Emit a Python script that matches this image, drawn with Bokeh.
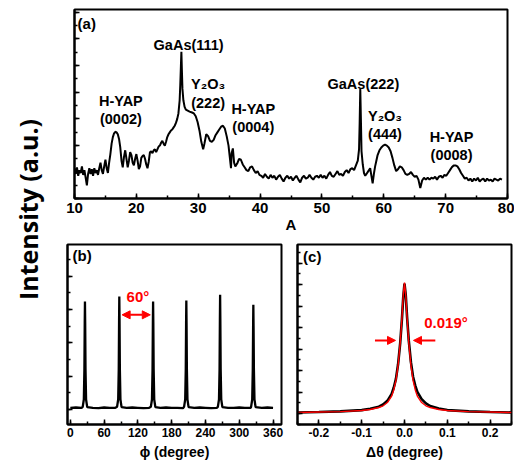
import math
from bokeh.plotting import figure
from bokeh.layouts import row, column
from bokeh.models import (Range1d, Label, Arrow, NormalHead, SingleIntervalTicker,
                          CustomJSTickFormatter)
from bokeh.embed import file_html
from bokeh.resources import INLINE

# ---------------- data ----------------
# (a) 2theta scan
xrd_x = [10.0, 10.2, 10.4, 10.6, 10.8, 11.0, 11.2, 11.4, 11.6, 11.8, 12.0, 12.2, 12.4, 12.6, 12.8,
         13.0, 13.2, 13.4, 13.6, 13.8, 14.0, 14.2, 14.4, 14.6, 14.8, 15.0, 15.2, 15.4, 15.6, 15.8,
         16.0, 16.2, 16.4, 16.6, 16.8, 17.0, 17.2, 17.4, 17.6, 17.8, 18.0, 18.2, 18.4, 18.6, 18.8,
         19.0, 19.2, 19.4, 19.6, 19.8, 20.0, 20.2, 20.4, 20.6, 20.8, 21.0, 21.2, 21.4, 21.6, 21.8,
         22.0, 22.2, 22.4, 22.6, 22.8, 23.0, 23.2, 23.4, 23.6, 23.8, 24.0, 24.2, 24.4, 24.6, 24.8,
         25.0, 25.2, 25.4, 25.6, 25.8, 26.0, 26.2, 26.4, 26.6, 26.8, 27.0, 27.1, 27.2, 27.28, 27.36,
         27.45, 27.6, 27.8, 28.0, 28.3, 28.6, 29.0, 29.3, 29.6, 29.9, 30.2, 30.5, 30.8, 31.0, 31.3,
         31.6, 31.9, 32.2, 32.5, 32.8, 33.1, 33.4, 33.7, 34.0, 34.3, 34.6, 34.9, 35.1, 35.3, 35.4,
         35.6, 35.8, 36.0, 36.3, 36.6, 36.9, 37.2, 37.5, 37.8, 38.1, 38.4, 38.7, 39.0, 39.3, 39.6,
         39.9, 40.2, 40.5, 40.8, 41.1, 41.4, 41.7, 42.0, 42.3, 42.6, 42.9, 43.2, 43.5, 43.8, 44.1,
         44.4, 44.7, 45.0, 45.3, 45.6, 45.9, 46.2, 46.5, 46.8, 47.1, 47.4, 47.7, 48.0, 48.3, 48.6,
         48.9, 49.2, 49.5, 49.8, 50.1, 50.4, 50.7, 51.0, 51.3, 51.6, 51.9, 52.2, 52.5, 52.8, 53.1,
         53.4, 53.7, 54.0, 54.3, 54.6, 54.9, 55.2, 55.5, 55.8, 56.0, 56.1, 56.2, 56.3, 56.4, 56.6,
         56.8, 57.0, 57.2, 57.5, 57.8, 58.0, 58.2, 58.4, 58.6, 58.8, 59.0, 59.3, 59.6, 59.9, 60.2,
         60.5, 60.8, 61.1, 61.4, 61.7, 62.0, 62.3, 62.6, 62.9, 63.2, 63.5, 63.8, 64.1, 64.4, 64.7,
         65.0, 65.3, 65.6, 65.9, 66.2, 66.5, 66.8, 67.1, 67.4, 67.7, 68.0, 68.3, 68.6, 68.9, 69.2,
         69.5, 69.8, 70.1, 70.4, 70.7, 71.0, 71.3, 71.6, 71.9, 72.2, 72.5, 72.8, 73.1, 73.4, 73.7,
         74.0, 74.3, 74.6, 74.9, 75.2, 75.5, 75.8, 76.1, 76.4, 76.7, 77.0, 77.3, 77.6, 77.9, 78.2,
         78.5, 78.8, 79.1]
xrd_y = [16.0, 13.0, 16.5, 12.0, 15.0, 13.5, 17.0, 12.5, 15.0, 11.0, 7.0, 13.0, 16.0, 13.0, 15.5,
         12.0, 16.0, 13.5, 15.0, 12.5, 16.0, 19.0, 15.0, 13.0, 17.0, 20.5, 16.0, 13.5, 19.0, 23.5,
         29.0, 32.5, 34.5, 35.3, 35.0, 34.0, 31.5, 27.0, 20.0, 16.5, 22.0, 25.5, 21.0, 16.5, 20.0,
         24.5, 23.0, 19.0, 17.5, 21.0, 23.5, 20.0, 15.5, 17.0, 21.5, 22.5, 23.0, 21.0, 18.0, 16.0,
         19.5, 24.5, 25.0, 24.0, 25.5, 26.0, 24.5, 26.0, 27.5, 28.0, 29.5, 30.5, 29.0, 28.0, 30.0,
         32.5, 34.0, 35.0, 36.0, 36.5, 37.5, 38.5, 40.0, 42.0, 45.0, 52.0, 60.0, 70.0, 77.6, 68.0,
         58.0, 52.0, 48.5, 47.0, 46.5, 46.0, 45.5, 45.0, 43.5, 40.5, 36.0, 30.0, 26.0, 29.0, 34.0,
         33.0, 30.5, 30.0, 31.0, 33.5, 35.0, 36.5, 38.0, 38.5, 37.0, 33.0, 28.0, 22.0, 16.0, 24.0,
         26.5, 19.0, 17.0, 18.5, 21.0, 20.5, 18.0, 16.5, 15.0, 14.5, 16.5, 17.0, 15.0, 13.5, 14.5,
         12.5, 12.0, 11.0, 13.0, 11.5, 10.5, 12.5, 11.0, 12.0, 10.0, 11.5, 12.5, 10.5, 9.0, 11.0,
         12.0, 10.5, 11.5, 9.5, 11.0, 12.0, 10.0, 8.5, 11.0, 12.0, 10.5, 11.0, 12.5, 11.0, 10.0,
         11.5, 12.0, 11.0, 12.5, 11.0, 12.0, 10.5, 12.5, 14.0, 12.0, 11.5, 13.0, 14.5, 12.5, 13.0,
         12.0, 14.0, 15.0, 13.5, 15.5, 16.0, 15.0, 17.5, 20.0, 26.0, 40.0, 58.0, 42.0, 25.0, 18.0,
         13.5, 12.0, 13.0, 14.5, 16.0, 12.0, 8.0, 13.0, 17.0, 20.0, 23.0, 25.5, 27.0, 28.0, 28.5,
         28.0, 27.0, 25.0, 21.5, 17.5, 14.5, 15.5, 17.0, 16.5, 15.0, 13.0, 12.5, 13.0, 14.0, 12.5,
         11.5, 12.0, 10.0, 5.5, 9.5, 11.0, 10.0, 11.0, 10.0, 11.0, 10.5, 11.5, 10.0, 11.5, 12.0,
         11.0, 12.5, 12.0, 13.5, 15.0, 16.5, 17.5, 17.5, 17.0, 15.5, 13.5, 12.0, 10.5, 11.0, 9.5,
         10.5, 9.0, 10.5, 9.5, 11.0, 9.0, 10.0, 10.5, 9.0, 10.5, 9.5, 10.0, 9.0, 10.5, 10.0,
         9.5, 10.5, 10.0]

# (b) phi scan
phi_x = [0, 10, 20, 22, 24, 25, 25.6, 26, 26.4, 27, 28, 30, 40, 50, 60, 70, 80, 83, 85, 86, 86.6,
         87, 87.4, 88, 89, 91, 100, 110, 120, 130, 140, 143, 145, 146, 146.6, 147, 147.4, 148, 149,
         151, 160, 170, 180, 190, 200, 202, 204, 205, 205.6, 206, 206.4, 207, 208, 210, 220, 230,
         240, 250, 260, 262, 264, 265, 265.6, 266, 266.4, 267, 268, 270, 280, 290, 300, 310, 320,
         321, 323, 324, 324.6, 325, 325.4, 326, 327, 329, 340, 350, 360]
phi_y = [0.05, 0.06, 0.05, 0.08, 0.3, 1.2, 2.6, 3.24, 2.6, 1.2, 0.3, 0.07, 0.05, 0.04, 0.06, 0.05,
         0.05, 0.08, 0.3, 1.2, 2.7, 3.39, 2.7, 1.2, 0.3, 0.07, 0.05, 0.06, 0.05, 0.04, 0.05, 0.08,
         0.3, 1.2, 2.6, 3.24, 2.6, 1.2, 0.3, 0.07, 0.05, 0.06, 0.05, 0.05, 0.04, 0.08, 0.3, 1.2,
         2.6, 3.27, 2.6, 1.2, 0.3, 0.07, 0.05, 0.06, 0.05, 0.04, 0.05, 0.08, 0.3, 1.2, 2.7, 3.44,
         2.7, 1.2, 0.3, 0.07, 0.05, 0.05, 0.06, 0.05, 0.05, 0.08, 0.3, 1.2, 2.5, 3.14, 2.5, 1.2,
         0.3, 0.07, 0.05, 0.06, 0.05]

# (c) rocking curve: measured (black) and fit (red)
rc_x = [-0.25, -0.2, -0.15, -0.1, -0.08, -0.06, -0.05, -0.04, -0.03, -0.025, -0.02, -0.015,
        -0.01, -0.006, -0.003, 0.0, 0.003, 0.006, 0.01, 0.015, 0.02, 0.025, 0.03, 0.04, 0.05,
        0.06, 0.08, 0.1, 0.15, 0.2, 0.25]
rc_data = [0.06, 0.08, 0.11, 0.17, 0.23, 0.33, 0.43, 0.6, 0.92, 1.22, 1.62, 2.3, 3.3, 4.4, 5.4,
           6.05, 5.5, 4.5, 3.4, 2.4, 1.72, 1.32, 1.02, 0.68, 0.48, 0.36, 0.24, 0.17, 0.11, 0.08,
           0.06]
rc_fit = [0.06, 0.08, 0.1, 0.15, 0.2, 0.29, 0.37, 0.52, 0.82, 1.12, 1.55, 2.25, 3.3, 4.45, 5.5,
          6.1, 5.5, 4.45, 3.3, 2.25, 1.55, 1.12, 0.82, 0.52, 0.37, 0.29, 0.2, 0.15, 0.1, 0.08,
          0.06]

FONT = "Liberation Sans"
RED = "#ff0000"
blank = CustomJSTickFormatter(code="return ''")


def style(p, tick_size, xint, xminor, yint, yminor, ylab_fmt):
    p.xgrid.grid_line_color = None
    p.ygrid.grid_line_color = None
    p.outline_line_color = "black"
    p.outline_line_width = 2
    p.outline_line_alpha = 1
    p.background_fill_color = "white"
    p.border_fill_color = "white"
    p.xaxis.ticker = SingleIntervalTicker(interval=xint, num_minor_ticks=xminor)
    p.yaxis.ticker = SingleIntervalTicker(interval=yint, num_minor_ticks=yminor)
    p.yaxis.formatter = ylab_fmt
    for ax in (p.xaxis[0], p.yaxis[0]):
        ax.axis_line_width = 2
        ax.axis_line_color = "black"
        ax.major_tick_in = 5
        ax.major_tick_out = 0
        ax.minor_tick_in = 3
        ax.minor_tick_out = 0
        ax.major_tick_line_width = 1.5
        ax.minor_tick_line_width = 1.5
        ax.major_label_text_font = FONT
        ax.major_label_text_font_style = "bold"
        ax.major_label_text_font_size = tick_size
        ax.major_label_text_color = "black"
        ax.axis_label_text_font = FONT
        ax.axis_label_text_font_style = "bold"
        ax.axis_label_text_color = "black"
    p.yaxis.major_label_standoff = 0


def lab(p, x, y, text, size="14.5px", color="black", align="center"):
    p.add_layout(Label(x=x, y=y, text=text, text_font=FONT, text_font_style="bold",
                       text_font_size=size, text_color=color, text_align=align,
                       text_baseline="middle"))


# ---------------- left label ----------------
pl = figure(width=48, height=466, x_range=Range1d(0, 48), y_range=Range1d(0, 466),
            toolbar_location=None, output_backend="svg", min_border=0,
            x_axis_location=None, y_axis_location=None)
pl.outline_line_color = None
pl.xgrid.grid_line_color = None
pl.ygrid.grid_line_color = None
pl.add_layout(Label(x=27, y=257, text="Intensity (a.u.)", angle=math.pi / 2,
                    text_font="Open Sans", text_font_style="bold", text_font_size="25px",
                    text_align="center", text_baseline="middle", text_color="black"))

# ---------------- (a) ----------------
pa = figure(width=466, height=236, x_range=Range1d(10, 80), y_range=Range1d(0, 100),
            toolbar_location=None, output_backend="svg",
            min_border_left=26, min_border_right=7, min_border_top=9, min_border_bottom=38)
style(pa, "15px", 10, 2, 14.07, 2, blank)
pa.xaxis.axis_label = "A"
pa.xaxis.axis_label_text_font_size = "15px"
pa.xaxis.axis_label_standoff = 0
pa.xaxis.major_label_standoff = 4
pa.line(xrd_x, xrd_y, line_color="black", line_width=2)
lab(pa, 10.5, 92.4, "(a)", size="15px", align="left")
lab(pa, 17.5, 51.7, "H-YAP")
lab(pa, 17.5, 42.0, "(0002)")
lab(pa, 28.45, 81.1, "GaAs(111)")
lab(pa, 31.6, 60.5, "Y\u2082O\u2083")
lab(pa, 31.6, 50.3, "(222)")
lab(pa, 38.9, 47.3, "H-YAP")
lab(pa, 38.9, 37.9, "(0004)")
lab(pa, 56.7, 60.5, "GaAs(222)")
lab(pa, 60.2, 43.7, "Y\u2082O\u2083")
lab(pa, 60.2, 34.0, "(444)")
lab(pa, 70.95, 32.5, "H-YAP")
lab(pa, 70.95, 22.9, "(0008)")

# ---------------- (b) ----------------
pb = figure(width=239, height=230, x_range=Range1d(-5, 375), y_range=Range1d(-0.45, 4.95),
            toolbar_location=None, output_backend="svg",
            min_border_left=19, min_border_right=6, min_border_top=8, min_border_bottom=42)
style(pb, "12px", 60, 2, 1, 2, blank)
pb.xaxis.axis_label = "\u03d5 (degree)"
pb.xaxis.axis_label_text_font_size = "14px"
pb.xaxis.axis_label_standoff = 4
pb.xaxis.major_label_standoff = 3
pb.line(phi_x, phi_y, line_color="black", line_width=2.3)
lab(pb, 4, 4.63, "(b)", size="15px", align="left")
lab(pb, 120, 3.39, "60\u00b0", size="15px", color=RED)
pb.add_layout(Arrow(x_start=92, y_start=2.84, x_end=142, y_end=2.84,
                    line_color=RED, line_width=2,
                    start=NormalHead(size=8, fill_color=RED, line_color=RED),
                    end=NormalHead(size=8, fill_color=RED, line_color=RED)))

# ---------------- (c) ----------------
pc = figure(width=227, height=230, x_range=Range1d(-0.25, 0.25), y_range=Range1d(-0.5, 7.87),
            toolbar_location=None, output_backend="svg",
            min_border_left=10, min_border_right=3, min_border_top=8, min_border_bottom=42)
style(pc, "12px", 0.1, 2, 1, 2, blank)
pc.xaxis.axis_label = "\u0394\u03b8 (degree)"
pc.xaxis.axis_label_text_font_size = "14px"
pc.xaxis.axis_label_standoff = 4
pc.xaxis.major_label_standoff = 3
pc.xaxis.formatter = CustomJSTickFormatter(code="return Math.abs(tick) < 1e-9 ? '0.0' : tick.toFixed(1)")
pc.line(rc_x, rc_data, line_color="black", line_width=2.6)
pc.line(rc_x, rc_fit, line_color=RED, line_width=1.4)
lab(pc, -0.237, 7.3, "(c)", size="15px", align="left")
lab(pc, 0.046, 4.26, "0.019\u00b0", size="15px", color=RED, align="left")
pc.add_layout(Arrow(x_start=-0.069, y_start=3.41, x_end=-0.021, y_end=3.41,
                    line_color=RED, line_width=2,
                    end=NormalHead(size=8, fill_color=RED, line_color=RED)))
pc.add_layout(Arrow(x_start=0.072, y_start=3.41, x_end=0.021, y_end=3.41,
                    line_color=RED, line_width=2,
                    end=NormalHead(size=8, fill_color=RED, line_color=RED)))

layout = row(pl, column(pa, row(pb, pc)))
open("out.html", "w").write(file_html(layout, INLINE))
